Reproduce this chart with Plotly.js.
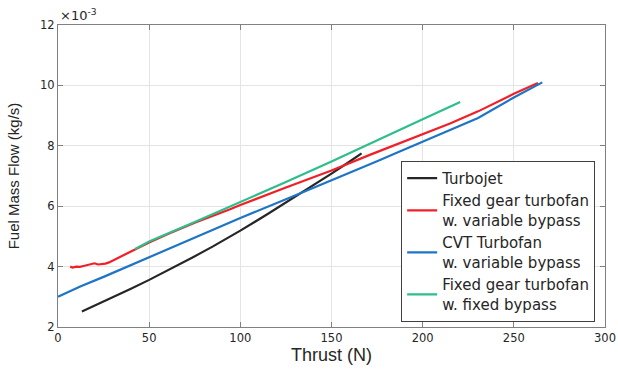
<!DOCTYPE html>
<html>
<head>
<meta charset="utf-8">
<script src="https://cdn.plot.ly/plotly-3.0.1.min.js"></script>
<style>html,body{margin:0;padding:0;background:#fff;}#chart{width:618px;height:372px;}</style>
</head>
<body>
<div id="chart"></div>
<script>
// Thrust (N) and fuel mass flow (x10^-3 kg/s)
const turbojetX = [13.1, 20, 30.4, 40, 50, 62, 74.3, 85, 94.4, 100, 115, 129, 140, 150, 160, 166.5];
const turbojetY = [2.51, 2.7, 2.99, 3.27, 3.56, 3.93, 4.32, 4.67, 4.99, 5.19, 5.74, 6.27, 6.69, 7.08, 7.48, 7.75];

const fixedVarX = [6.7, 8, 10, 12, 14, 16, 18, 20, 22, 24, 26, 28, 30, 34, 38, 42.3, 50, 60, 75, 94.4, 100, 125, 150, 171, 187.4, 200, 215, 230.4, 250, 263.2];
const fixedVarY = [4.0, 3.97, 4.0, 3.99, 4.02, 4.05, 4.09, 4.11, 4.07, 4.08, 4.1, 4.14, 4.2, 4.31, 4.43, 4.58, 4.8, 5.07, 5.45, 5.9, 6.04, 6.62, 7.18, 7.7, 8.08, 8.38, 8.74, 9.14, 9.72, 10.08];

const cvtX = [0, 12.2, 25, 50, 75, 100, 129, 150, 175, 187.4, 200, 215, 230.4, 250, 265.6];
const cvtY = [3.0, 3.34, 3.66, 4.31, 4.96, 5.61, 6.33, 6.85, 7.49, 7.81, 8.14, 8.53, 8.92, 9.6, 10.1];

const fixedFixX = [42.3, 50, 75, 94.4, 125, 150, 166, 187.4, 200, 220.6];
const fixedFixY = [4.58, 4.83, 5.48, 5.99, 6.8, 7.48, 7.92, 8.52, 8.88, 9.45];

const names = ['Turbojet', 'Fixed gear turbofan<br>w. variable bypass', 'CVT Turbofan<br>w. variable bypass', 'Fixed gear turbofan<br>w. fixed bypass'];
const colors = ['#262626', '#f02028', '#1f74c6', '#2ebd8c'];
const xTicks = [0, 50, 100, 150, 200, 250, 300];
const yTicks = [2, 4, 6, 8, 10, 12];

const xs = [turbojetX, fixedVarX, cvtX, fixedFixX];
const ys = [turbojetY, fixedVarY, cvtY, fixedFixY];
const data = xs.map((x, i) => ({
  x: x, y: ys[i], type: 'scatter', mode: 'lines', name: names[i],
  line: {color: colors[i], width: 2.2}, hoverinfo: 'skip'
}));

const axisCommon = {
  showline: true, linecolor: '#808080', linewidth: 1, mirror: 'ticks',
  ticks: 'inside', ticklen: 5, tickcolor: '#808080',
  showgrid: true, gridcolor: '#e4e4e4', gridwidth: 1, zeroline: false,
  tickfont: {family: 'DejaVu Sans', size: 11.5, color: '#262626'}
};

const layout = {
  width: 618, height: 372,
  margin: {l: 58, r: 13, t: 25, b: 45},
  paper_bgcolor: '#fff', plot_bgcolor: '#fff',
  showlegend: true,
  xaxis: Object.assign({}, axisCommon, {
    range: [0, 300], tickvals: xTicks,
    title: {text: 'Thrust (N)', font: {family: 'Liberation Sans', size: 18, color: '#262626'}, standoff: 4}
  }),
  yaxis: Object.assign({}, axisCommon, {
    range: [2, 12], tickvals: yTicks,
    title: {text: 'Fuel Mass Flow (kg/s)', font: {family: '"Liberation Sans Narrow", "Liberation Sans", sans-serif', size: 15, color: '#262626'}, standoff: 16}
  }),
  legend: {
    x: 0.982, y: 0.017, xanchor: 'right', yanchor: 'bottom',
    bgcolor: '#fff', bordercolor: '#404040', borderwidth: 1,
    font: {family: 'DejaVu Sans', size: 15, color: '#262626'},
    tracegroupgap: 0
  },
  annotations: [{
    xref: 'paper', yref: 'paper', x: 0, y: 1, xanchor: 'left', yanchor: 'bottom',
    text: '×10<sup>-3</sup>', showarrow: false, yshift: 0,
    font: {family: 'DejaVu Sans', size: 13, color: '#262626'}
  }]
};

Plotly.newPlot('chart', data, layout, {displayModeBar: false, staticPlot: true});
</script>
</body>
</html>
